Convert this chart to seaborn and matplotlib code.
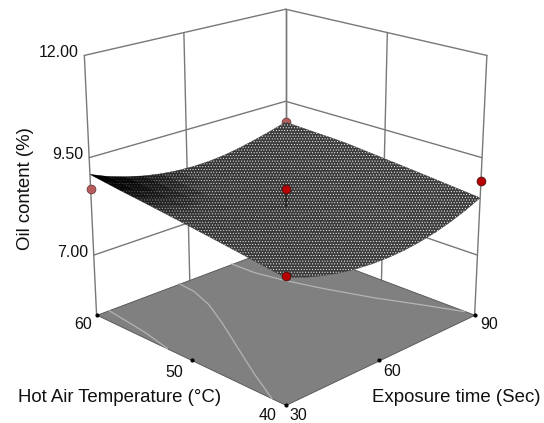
import numpy as np
import seaborn as sns
import matplotlib.pyplot as plt
from mpl_toolkits.mplot3d import proj3d

sns.set_theme(style='white')
plt.rcParams['font.family'] = ['Liberation Sans', 'DejaVu Sans']
plt.rcParams['hatch.color'] = '#bdbdbd'
plt.rcParams['hatch.linewidth'] = 0.4

# response surface, one list per temperature level
time_levels = [30, 35, 40, 45, 50, 55, 60, 65, 70, 75, 80, 85, 90]
temp_levels = [40, 41.67, 43.33, 45, 46.67, 48.33, 50, 51.67, 53.33, 55, 56.67, 58.33, 60]
oil_t40 = [8.416, 8.256, 8.126, 8.026, 7.956, 7.917, 7.908, 7.928, 7.979, 8.060, 8.171, 8.313, 8.484]
oil_t42 = [8.477, 8.318, 8.189, 8.090, 8.020, 7.980, 7.970, 7.989, 8.038, 8.117, 8.225, 8.363, 8.531]
oil_t43 = [8.537, 8.379, 8.250, 8.151, 8.081, 8.040, 8.029, 8.047, 8.094, 8.171, 8.277, 8.413, 8.578]
oil_t45 = [8.595, 8.438, 8.308, 8.209, 8.138, 8.097, 8.085, 8.102, 8.147, 8.223, 8.327, 8.461, 8.624]
oil_t47 = [8.653, 8.495, 8.366, 8.266, 8.195, 8.153, 8.140, 8.156, 8.200, 8.274, 8.377, 8.508, 8.669]
oil_t48 = [8.709, 8.550, 8.421, 8.320, 8.248, 8.205, 8.191, 8.206, 8.250, 8.322, 8.423, 8.554, 8.713]
oil_t50 = [8.764, 8.604, 8.473, 8.372, 8.299, 8.255, 8.240, 8.254, 8.296, 8.368, 8.469, 8.598, 8.757]
oil_t52 = [8.817, 8.656, 8.524, 8.421, 8.347, 8.302, 8.286, 8.299, 8.341, 8.412, 8.512, 8.641, 8.800]
oil_t53 = [8.869, 8.706, 8.572, 8.467, 8.392, 8.346, 8.329, 8.341, 8.383, 8.454, 8.554, 8.683, 8.842]
oil_t55 = [8.920, 8.754, 8.618, 8.512, 8.435, 8.387, 8.370, 8.381, 8.423, 8.494, 8.594, 8.720, 8.865]
oil_t57 = [8.969, 8.801, 8.662, 8.554, 8.475, 8.426, 8.408, 8.419, 8.460, 8.531, 8.625, 8.745, 8.880]
oil_t58 = [9.025, 8.845, 8.704, 8.593, 8.513, 8.462, 8.443, 8.454, 8.495, 8.567, 8.660, 8.775, 8.900]
oil_t60 = [9.080, 8.888, 8.744, 8.630, 8.547, 8.496, 8.475, 8.486, 8.527, 8.600, 8.695, 8.800, 8.920]

# floor contours (time, temp)
cont1_time = [33.4, 32.6, 31.7, 30.0]
cont1_temp = [60.0, 57.5, 54.9, 51.9]
cont2_time = [54.6, 54.1, 51.5, 47.0, 40.8, 34.8, 30.0]
cont2_temp = [60.0, 58.1, 55.4, 52.3, 48.4, 44.6, 41.3]
cont3_time = [71.5, 71.7, 73.5, 76.7, 81.1, 86.1, 89.7]
cont3_temp = [60.0, 57.4, 54.6, 51.2, 47.3, 43.7, 40.9]

# design points
pt_time = [30, 90, 60, 30, 90]
pt_temp = [60, 60, 50, 40, 40]
pt_oil = [8.71, 8.93, 8.70, 8.45, 8.90]
pt_above = [False, False, True, True, True]

time_ticks = [30, 60, 90]
temp_ticks = [40, 50, 60]
oil_ticks = [7.00, 9.50, 12.00]
# the original's mid ticks sit at the plain midpoint on screen, not the perspective one
time_pos = [30, 57.9, 90]
temp_pos = [40, 49.3, 60]
oil_floor = 5.41

W, H = 544, 423
fig = plt.figure(figsize=(W / 100, H / 100), dpi=100)
ax = fig.add_axes([47.54 / W, -4.244 / H, 1.096 * H / W, 1.096], projection='3d', computed_zorder=False)
ax.set_xlim(30, 90)
ax.set_ylim(40, 60)
ax.set_zlim(oil_floor, 12)
ax.view_init(elev=20, azim=-135)
ax.set_proj_type('persp', focal_length=0.6)
ax.set_box_aspect((1, 1, 1))
ax.set_axis_off()

line_col = '#787878'

# walls: verticals and horizontal grid at each oil tick
for z in oil_ticks:
    ax.plot([30, 90], [60, 60], [z, z], color=line_col, lw=1, zorder=1)
    ax.plot([90, 90], [60, 40], [z, z], color=line_col, lw=1, zorder=1)
for t in time_pos:
    ax.plot([t, t], [60, 60], [oil_floor, 12], color=line_col, lw=1, zorder=1)
for t in temp_pos:
    ax.plot([90, 90], [t, t], [oil_floor, 12], color=line_col, lw=1, zorder=1)

# floor
fx, fy = np.meshgrid([30, 90], [40, 60])
ax.plot_surface(fx, fy, np.full(fx.shape, oil_floor), color='#808080', shade=False,
                edgecolor='#505050', linewidth=0.6, zorder=2)

for cx, cy in [(cont1_time, cont1_temp), (cont2_time, cont2_temp), (cont3_time, cont3_temp)]:
    ax.plot(cx, cy, [oil_floor] * len(cx), color='#b4b4b4', lw=0.9, zorder=2.5)

X, Y = np.meshgrid(time_levels, temp_levels)
Z = np.array([oil_t40, oil_t42, oil_t43, oil_t45, oil_t47, oil_t48, oil_t50,
              oil_t52, oil_t53, oil_t55, oil_t57, oil_t58, oil_t60])

# points sitting under the surface are washed out
for a, b, c, up in zip(pt_time, pt_temp, pt_oil, pt_above):
    if not up:
        ax.scatter([a], [b], [c], s=40, c='#b85c5c', edgecolors='#6a4040', linewidths=0.6,
                   depthshade=False, zorder=3)

# the surface: dark base, dotted mesh on it, darker towards the far left corner
ax.plot_surface(X, Y, Z, rstride=1, cstride=1, color='#3c3c3c', edgecolor='#3c3c3c',
                linewidth=0.3, shade=False, zorder=4)
mesh = ax.plot_surface(X, Y, Z, rstride=1, cstride=1, color='#00000000', shade=False,
                       linewidth=0, zorder=4.1)
mesh.set_edgecolor('none')
mesh.set_hatch('......')
tu = (X[:-1, :-1] + X[1:, 1:] - 60) / 120
tv = 1 - (Y[:-1, :-1] + Y[1:, 1:] - 80) / 40
dist = np.hypot(tu, tv)
shade = np.clip(1.0 - 2.3 * dist, 0, 1) + 0.2 * np.clip(1 - dist, 0, 1)
cols = np.zeros(shade.shape + (4,))
cols[..., 3] = np.clip(shade, 0, 1)
ax.plot_surface(X, Y, Z, rstride=1, cstride=1, facecolors=cols, shade=False, linewidth=0, zorder=4.2)

ax.plot([60, 60], [50, 50], [8.70, 8.24], color='#2c2c2c', lw=1.4, zorder=4.5)
for a, b, c, up in zip(pt_time, pt_temp, pt_oil, pt_above):
    if up:
        ax.scatter([a], [b], [c], s=40, c='#b80000', edgecolors='#4a1010', linewidths=0.6,
                   depthshade=False, zorder=5)

# tick dots and labels
M = ax.get_proj()


def tick(x, y, z, text, dx, dy, ha='center', size=11.5):
    px, py, _ = proj3d.proj_transform(x, y, z, M)
    ax.annotate(text, xy=(px, py), xytext=(dx, dy), textcoords='offset pixels', ha=ha, va='center',
                fontsize=size, color='#111111', annotation_clip=False)


ax.scatter(time_pos, [40] * 3, [oil_floor] * 3, s=4, c='black', depthshade=False, zorder=3)
ax.scatter([30, 30], temp_pos[1:], [oil_floor] * 2, s=4, c='black', depthshade=False, zorder=3)
for t, pos, dx, dy in zip(time_ticks, time_pos, [12.5, 12.5, 14], [-11, -11, -10]):
    tick(pos, 40, oil_floor, str(t), dx, dy)
for t, pos, dx, dy in zip(temp_ticks, temp_pos, [-18, -17.5, -13.5], [-11, -12, -10]):
    tick(30, pos, oil_floor, str(t), dx, dy)
for z in oil_ticks:
    tick(30, 60, z, f'{z:.2f}', -6, 3, ha='right')

fig.text(120 / W, 1 - 397 / H, 'Hot Air Temperature (°C)', ha='center', va='center', fontsize=13.4, color='#111111')
fig.text(456 / W, 1 - 397 / H, 'Exposure time (Sec)', ha='center', va='center', fontsize=13.4, color='#111111')
fig.text(25 / W, 1 - 189 / H, 'Oil content (%)', rotation=90, ha='center', va='center', fontsize=13.4, color='#111111')

fig.savefig('out.png', dpi=100)
